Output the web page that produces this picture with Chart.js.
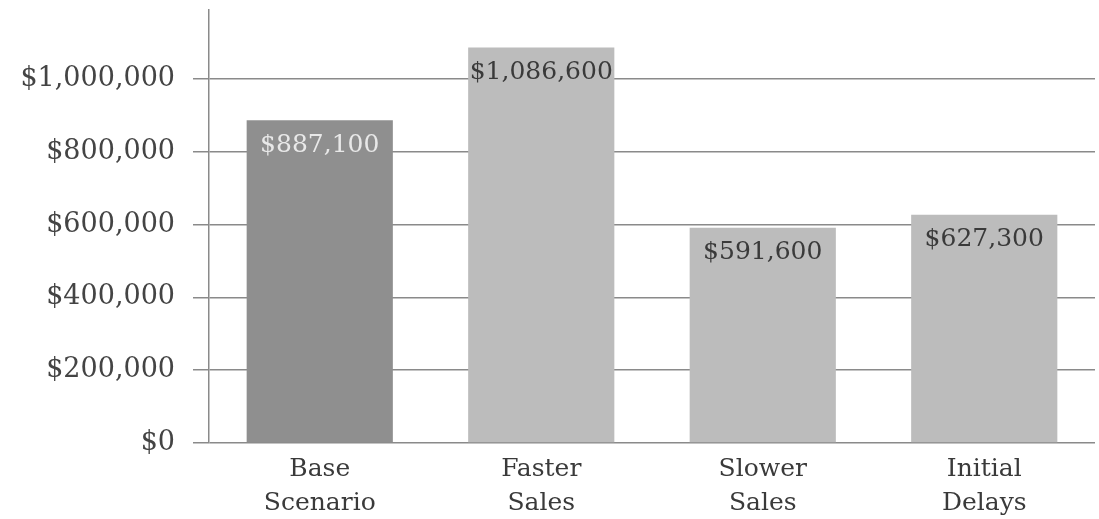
<!DOCTYPE html>
<html>
<head>
<meta charset="utf-8">
<script src="https://cdn.jsdelivr.net/npm/chart.js@4/dist/chart.umd.min.js"></script>
<style>
  html, body { margin: 0; padding: 0; background: #fff; }
  #wrap { width: 1099px; height: 519px; }
</style>
</head>
<body>
<div id="wrap"><canvas id="scenarioChart" width="1099" height="519"></canvas></div>
<script>
// chart data
const scenarios = [['Base', 'Scenario'], ['Faster', 'Sales'], ['Slower', 'Sales'], ['Initial', 'Delays']];
const values = [887100, 1086600, 591600, 627300];
const yTicks = [0, 200000, 400000, 600000, 800000, 1000000];
const barColors = ['#8f8f8f', '#bcbcbc', '#bcbcbc', '#bcbcbc'];
const labelColors = ['#e8e8e8', '#3a3a3a', '#3a3a3a', '#3a3a3a'];
const yMax = 1190000;

const serif = '"DejaVu Serif", "Liberation Serif", serif';
const money = v => '$' + Number(v).toLocaleString('en-US');

// writes the value inside the top of each bar
const barValueLabels = {
    id: 'barValueLabels',
    afterDatasetsDraw(chart) {
        const ctx = chart.ctx;
        const meta = chart.getDatasetMeta(0);
        ctx.save();
        ctx.font = '25px ' + serif;
        ctx.textAlign = 'center';
        ctx.textBaseline = 'middle';
        meta.data.forEach((bar, i) => {
            ctx.fillStyle = labelColors[i];
            ctx.fillText(money(values[i]), bar.x, bar.y + 25);
        });
        ctx.restore();
    }
};

const ctx = document.getElementById('scenarioChart').getContext('2d');
new Chart(ctx, {
    type: 'bar',
    data: {
        labels: scenarios,
        datasets: [{
            data: values,
            backgroundColor: barColors,
            borderWidth: 0,
            barPercentage: 0.66,
            categoryPercentage: 1
        }]
    },
    options: {
        responsive: false,
        animation: false,
        layout: { padding: { top: 10, right: 4, left: 0, bottom: 0 } },
        plugins: {
            legend: { display: false },
            tooltip: { enabled: false }
        },
        scales: {
            x: {
                grid: { display: false },
                border: { display: false },
                ticks: {
                    color: '#3a3a3a',
                    font: { family: serif, size: 25, lineHeight: 1.36 },
                    padding: 1,
                    maxRotation: 0
                },
                afterFit(scale) {
                    scale.height = 76;
                    scale.paddingLeft = 0;
                    scale.paddingRight = 0;
                }
            },
            y: {
                min: 0,
                max: yMax,
                ticks: {
                    color: '#444',
                    font: { family: serif, size: 27 },
                    padding: 18,
                    callback: v => money(v)
                },
                afterBuildTicks(scale) {
                    scale.ticks = yTicks.map(v => ({ value: v }));
                },
                afterFit(scale) {
                    scale.width = 209;
                    scale.paddingTop = 0;
                    scale.paddingBottom = 0;
                },
                grid: {
                    color: '#8a8a8a',
                    lineWidth: 1.5,
                    tickLength: 16,
                    drawTicks: true
                },
                border: { color: '#8a8a8a', width: 1.5 }
            }
        }
    },
    plugins: [barValueLabels]
});
</script>
</body>
</html>
